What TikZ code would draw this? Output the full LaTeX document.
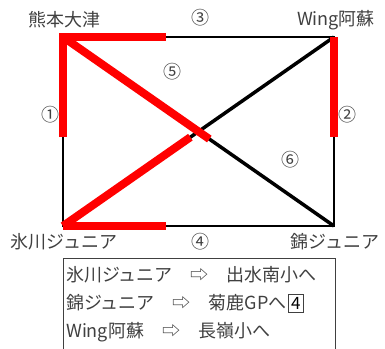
\documentclass[tikz,border=0pt]{standalone}
\usepackage{fontspec}
\setmainfont{Noto Sans CJK JP}
\usetikzlibrary{positioning, calc}
\definecolor{txtgray}{RGB}{64,64,64}
\definecolor{routered}{RGB}{255,0,0}

\begin{document}
\begin{tikzpicture}[x=1pt, y=-1pt,
    edge/.style={draw=black, line width=2.5pt},
    diag/.style={draw=black, line width=3.5pt},
    route/.style={draw=routered, line width=8pt},
    team/.style={font=\fontsize{18}{18}\selectfont, text=txtgray, inner sep=0pt},
    num/.style={font=\fontsize{18}{18}\selectfont, text=txtgray, inner sep=0pt},
    legend/.style={font=\fontsize{18}{18}\selectfont, text=txtgray, inner sep=0pt, anchor=west}
]
\useasboundingbox (0,0) rectangle (385,348);

% Corners
\coordinate (kuma) at (63,37);
\coordinate (wing) at (334,37);
\coordinate (hika) at (63,226);
\coordinate (nish) at (334,226);

% Rectangle and diagonals
\draw[edge] (kuma) -- (wing) -- (nish) -- (hika) -- cycle;
\draw[diag] (kuma) -- (nish);
\draw[diag] (hika) -- (wing);

% Red routes
\draw[route, miter limit=10] ($(kuma)!0.53!(hika)$) -- (kuma) -- ($(kuma)!0.38!(wing)$);
\draw[route] (kuma) -- ($(kuma)!0.54!(nish)$);
\draw[route] (wing) -- ($(wing)!0.53!(nish)$);
\draw[route] (hika) -- ($(hika)!0.38!(nish)$);
\draw[route] (hika) -- ($(hika)!0.47!(wing)$);

% Team names
\node[team] (lkuma) at (64,20) {熊本大津};
\node[team] (lwing) at (336,20) {Wing阿蘇};
\node[team] (lhika) at (64,242) {氷川ジュニア};
\node[team] (lnish) at (335,242) {錦ジュニア};

% Match numbers
\node[num] (n1) at (50,115) {①};
\node[num] (n2) at (347,115) {②};
\node[num] (n3) at (200,18) {③};
\node[num] (n4) at (200,242) {④};
\node[num] (n5) at (172,72) {⑤};
\node[num] (n6) at (290,160) {⑥};

% Legend
\draw[txtgray, line width=1pt] (63,350) -- (63,258) -- (335,258) -- (335,350);
\node[legend] (leg1) at (66,275) {氷川ジュニア　⇨　出水南小へ};
\node[legend] (leg2) at (66,303) {錦ジュニア　⇨　菊鹿GPへ};
\node[draw=txtgray, line width=0.8pt, inner sep=0pt, minimum width=15pt, minimum height=18pt, font=\fontsize{17}{17}\selectfont, right=1pt of leg2] (four) {4};
\node[legend] (leg3) at (66,332) {Wing阿蘇　⇨　長嶺小へ};

\end{tikzpicture}
\end{document}
